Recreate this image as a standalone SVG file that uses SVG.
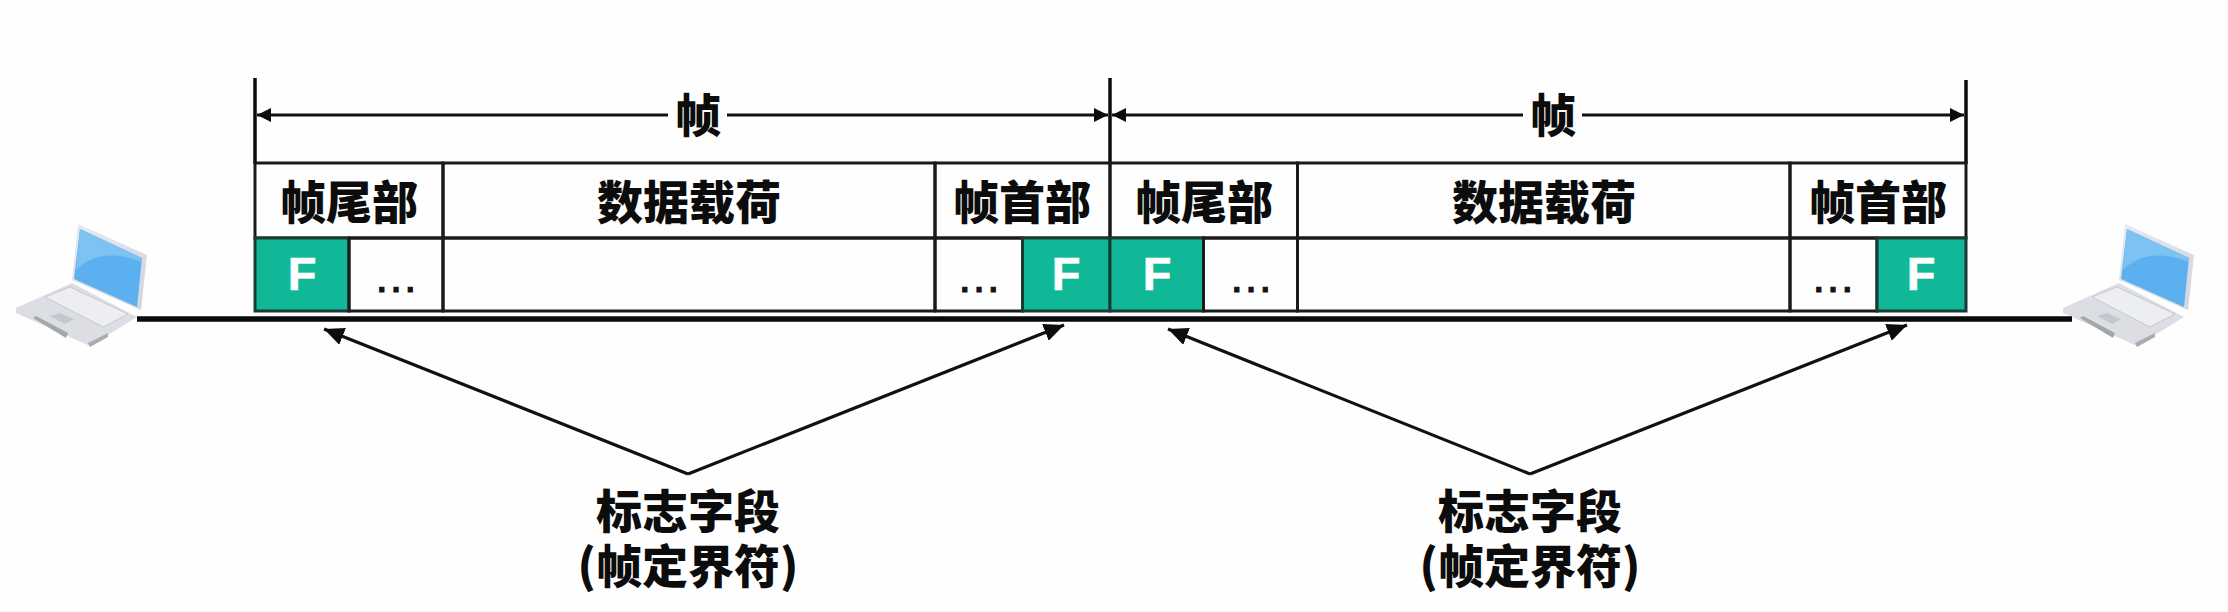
<svg xmlns="http://www.w3.org/2000/svg" width="2228" height="612" viewBox="0 0 2228 612">
<style>
.t{font-family:"Noto Sans CJK SC","Liberation Sans",sans-serif;font-weight:900;font-size:46px;fill:#0c0c0c;text-anchor:middle}
.f{font-family:"Liberation Sans",sans-serif;font-weight:700;font-size:47px;fill:#fff;stroke:#fff;stroke-width:.6;text-anchor:middle}
.d{font-family:"Liberation Sans",sans-serif;font-weight:400;font-size:45px;fill:#111;stroke:#111;stroke-width:1;text-anchor:middle}
.cell{fill:none;stroke:#1a1a1a;stroke-width:3}
.flag{fill:#10b898;stroke:#1a3a34;stroke-width:3}
.dim{stroke:#111;stroke-width:3;fill:none}
.tick{stroke:#0c0c0c;stroke-width:3.5;fill:none}
.lead{stroke:#111;stroke-width:3.2;fill:none}
.wire{stroke:#0a0a0a;stroke-width:5.5;fill:none}
</style>
<defs>
<marker id="dimHead" viewBox="0 0 14 14" refX="14" refY="7" markerUnits="userSpaceOnUse" markerWidth="14" markerHeight="14" orient="auto"><path d="M0,0 L14,7 L0,14 Z" fill="#0c0c0c"/></marker>
<marker id="leadHead" viewBox="0 0 20 18" refX="20" refY="9" markerUnits="userSpaceOnUse" markerWidth="20" markerHeight="18" orient="auto"><path d="M0,0 L20,9 L0,18 Z" fill="#0c0c0c"/></marker>
<linearGradient id="lidShade" x1="0" y1="0" x2="1" y2="1"><stop offset="0" stop-color="#e8eaf2"/><stop offset="1" stop-color="#d2d5de"/></linearGradient>
<g id="laptop">
<path d="M16,308 L72,283 L137,317 L90,346 L16,313 Z" fill="#dcdee3"/>
<path d="M78,224 L147,255 L141,310 L72,280 Z" fill="url(#lidShade)"/>
<path d="M80,229 L142,258 L137,307 L74,279 Z" fill="#5cb0f0"/>
<path d="M80,229 L142,258 L141,262 C112,250 90,256 76,270 Z" fill="#7cc2f2"/>
<path d="M45,297 L70,287 L128,314 L103,327 Z" fill="#eceef2" stroke="#c6c9d0" stroke-width="1"/>
<path d="M50,316 L60,313 L74,319 L65,324 Z" fill="#c4c7cd"/>
<path d="M33,318 L36,316 L68,333 L66,338 Z" fill="#a3a6ab"/>
<path d="M88,343 L108,333 L108,337 L90,347 Z" fill="#a9acb1"/>
</g>
</defs>
<rect width="2228" height="612" fill="#fefefe"/>
<g id="laptop-left"><use href="#laptop"/></g>
<g id="laptop-right"><use href="#laptop" x="2047"/></g>
<g id="connectors">
<path class="wire" d="M137,319 H2072"/>
<path class="tick" d="M255,78 V164"/>
<path class="tick" d="M1110,78 V164"/>
<path class="tick" d="M1966,80 V164"/>
<path class="dim" d="M668,115 H257" marker-end="url(#dimHead)"/>
<path class="dim" d="M727,115 H1108" marker-end="url(#dimHead)"/>
<path class="dim" d="M1523,115 H1112" marker-end="url(#dimHead)"/>
<path class="dim" d="M1582,115 H1964" marker-end="url(#dimHead)"/>
<path class="lead" d="M688,474 L324,329" marker-end="url(#leadHead)"/>
<path class="lead" d="M688,474 L1064,325" marker-end="url(#leadHead)"/>
<path class="lead" d="M1530,474 L1168,329" marker-end="url(#leadHead)"/>
<path class="lead" d="M1530,474 L1907,325" marker-end="url(#leadHead)"/>
</g>
<g id="frame-1">
<g id="f1-trailer-head"><rect class="cell" x="255" y="163" width="188" height="75"/><text class="t" x="349" y="219">帧尾部</text></g>
<g id="f1-payload-head"><rect class="cell" x="443" y="163" width="492" height="75"/><text class="t" x="689" y="219">数据载荷</text></g>
<g id="f1-header-head"><rect class="cell" x="935" y="163" width="175" height="75"/><text class="t" x="1022" y="219">帧首部</text></g>
<g id="f1-flag-left"><rect class="flag" x="255" y="238" width="94" height="73"/><text class="f" x="302" y="290">F</text></g>
<g id="f1-dots-left"><rect class="cell" x="349" y="238" width="94" height="73"/><text class="d" x="396" y="292">…</text></g>
<g id="f1-payload"><rect class="cell" x="443" y="238" width="492" height="73"/></g>
<g id="f1-dots-right"><rect class="cell" x="935" y="238" width="87.500" height="73"/><text class="d" x="979" y="292">…</text></g>
<g id="f1-flag-right"><rect class="flag" x="1022.500" y="238" width="87.500" height="73"/><text class="f" x="1066" y="290">F</text></g>
</g>
<g id="frame-2">
<g id="f2-trailer-head"><rect class="cell" x="1110" y="163" width="187.500" height="75"/><text class="t" x="1204" y="219">帧尾部</text></g>
<g id="f2-payload-head"><rect class="cell" x="1297.500" y="163" width="492.500" height="75"/><text class="t" x="1544" y="219">数据载荷</text></g>
<g id="f2-header-head"><rect class="cell" x="1790" y="163" width="176" height="75"/><text class="t" x="1878" y="219">帧首部</text></g>
<g id="f2-flag-left"><rect class="flag" x="1110" y="238" width="93.500" height="73"/><text class="f" x="1157" y="290">F</text></g>
<g id="f2-dots-left"><rect class="cell" x="1203.500" y="238" width="94" height="73"/><text class="d" x="1251" y="292">…</text></g>
<g id="f2-payload"><rect class="cell" x="1297.500" y="238" width="492.500" height="73"/></g>
<g id="f2-dots-right"><rect class="cell" x="1790" y="238" width="87" height="73"/><text class="d" x="1833" y="292">…</text></g>
<g id="f2-flag-right"><rect class="flag" x="1877" y="238" width="89" height="73"/><text class="f" x="1921" y="290">F</text></g>
</g>
<g id="label-frame-1"><text class="t" x="698" y="132">帧</text></g>
<g id="label-frame-2"><text class="t" x="1553" y="132">帧</text></g>
<g id="label-flag-1"><text class="t" x="688" y="528">标志字段</text><text class="t" x="688" y="583">(帧定界符)</text></g>
<g id="label-flag-2"><text class="t" x="1530" y="528">标志字段</text><text class="t" x="1530" y="583">(帧定界符)</text></g>
</svg>
